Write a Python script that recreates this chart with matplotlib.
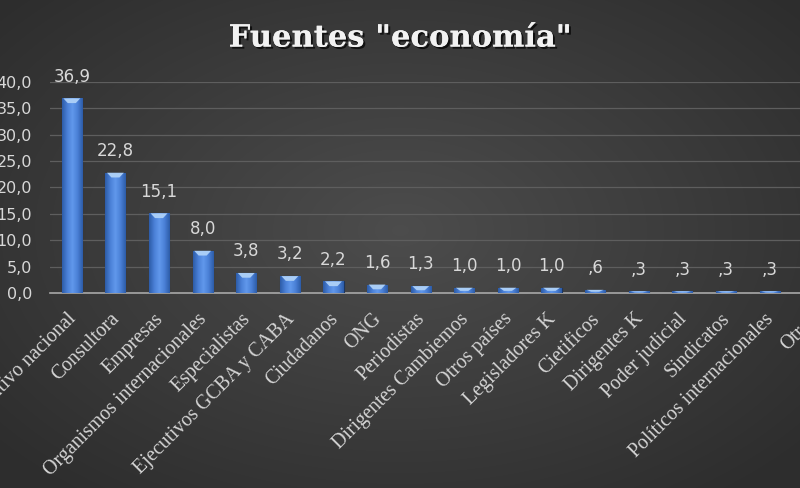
import numpy as np
import matplotlib
matplotlib.use('Agg')
import matplotlib.pyplot as plt
import matplotlib.patheffects as pe
from matplotlib.colors import LinearSegmentedColormap
from matplotlib.transforms import ScaledTranslation

categories = ['Ejecutivo nacional', 'Consultora', 'Empresas',
              'Organismos internacionales', 'Especialistas',
              'Ejecutivos GCBA y CABA', 'Ciudadanos', 'ONG', 'Periodistas',
              'Dirigentes Cambiemos', 'Otros países', 'Legisladores K',
              'Cietificos', 'Dirigentes K', 'Poder judicial', 'Sindicatos',
              'Políticos internacionales', 'Otros']
values = [36.9, 22.8, 15.1, 8.0, 3.8, 3.2, 2.2, 1.6, 1.3,
          1.0, 1.0, 1.0, 0.6, 0.3, 0.3, 0.3, 0.3, 0.3]
y_ticks = [0, 5, 10, 15, 20, 25, 30, 35, 40]
title = 'Fuentes "economía"'


def fmt(v):
    s = f'{v:.1f}'.replace('.', ',')
    if 0 < v < 1:
        s = s[1:]  # excel style ",6"
    return s


fig = plt.figure(figsize=(8, 4.88), dpi=100)

# dark radial background
bg = fig.add_axes([0, 0, 1, 1])
yy, xx = np.mgrid[0:488, 0:800]
r = np.sqrt(((xx - 400) / 520.0) ** 2 + ((yy - 230) / 330.0) ** 2)
shade = np.clip(0.30 - 0.12 * r, 0.18, 0.31)
bg.imshow(np.dstack([shade, shade, shade]), aspect='auto', extent=[0, 1, 0, 1])
bg.axis('off')

ax = fig.add_axes([50 / 800, 195 / 488, 785 / 800, 211 / 488])
ax.patch.set_alpha(0)

x = np.arange(len(categories))
bars = ax.bar(x, values, width=0.46, color='#4a80d6', edgecolor='#1c355f',
              linewidth=0.8, zorder=3)

# horizontal gradient inside every bar
cmap = LinearSegmentedColormap.from_list(
    'bar', ['#2d5ca8', '#4a80d6', '#6198ec', '#4a80d6', '#2d5ca8'])
grad = np.linspace(0, 1, 64).reshape(1, -1)
for b, v in zip(bars, values):
    x0 = b.get_x()
    w = b.get_width()
    im = ax.imshow(grad, cmap=cmap, aspect='auto', zorder=4,
                   extent=[x0, x0 + w, 0, v])
    im.set_clip_path(b)
    cap = min(0.9, v * 0.6)
    ax.fill([x0 + w * 0.08, x0 + w * 0.92, x0 + w * 0.7, x0 + w * 0.3],
            [v, v, v - cap, v - cap], color='#a9cdf6', lw=0, zorder=5)
    ax.text(x0 + w / 2, v + 2.4, fmt(v), ha='center', va='bottom',
            color='#d8d8d8', fontsize=12, family='DejaVu Sans', zorder=6)

ax.set_xlim(-0.5, len(categories) - 0.5)
ax.set_ylim(0, 40)
ax.set_yticks(y_ticks)
ax.set_yticklabels([fmt(t) for t in y_ticks], color='#d8d8d8', fontsize=11.5)
ax.yaxis.grid(True, color='#5e5e5e', lw=0.9)
ax.set_axisbelow(True)
ax.tick_params(axis='y', length=0, pad=13)
ax.tick_params(axis='x', length=0, pad=12)

ax.set_xticks(x)
ax.set_xticklabels(categories, rotation=45, ha='right', va='top',
                   rotation_mode='anchor', color='#d4d4d4', fontsize=14.3,
                   family='Liberation Serif')
shift = ScaledTranslation(-5 / 100, 0, fig.dpi_scale_trans)
for lab in ax.get_xticklabels():
    lab.set_transform(lab.get_transform() + shift)

for s in ['top', 'right', 'left']:
    ax.spines[s].set_visible(False)
ax.spines['bottom'].set_color('#a8a8a8')
ax.spines['bottom'].set_linewidth(1.2)

fig.text(0.5, 0.922, title, ha='center', va='center', color='#f2f2f2',
         fontsize=22, fontweight='bold', family='DejaVu Serif',
         path_effects=[pe.withSimplePatchShadow(offset=(1.5, -1.5),
                                                shadow_rgbFace='black',
                                                alpha=0.7),
                       pe.Normal()])

fig.savefig('out.png', dpi=100)
